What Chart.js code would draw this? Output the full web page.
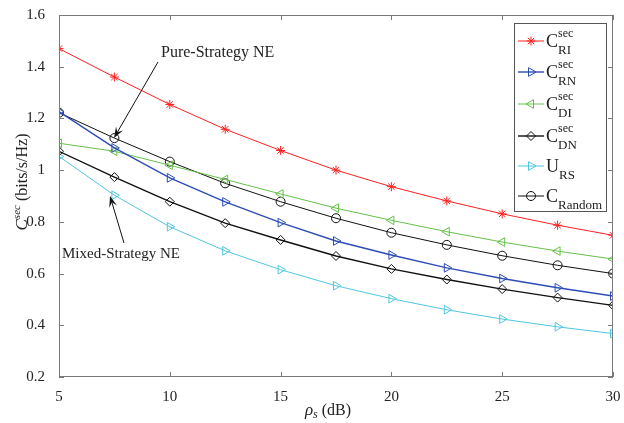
<!DOCTYPE html>
<html>
<head>
<meta charset="utf-8">
<script src="https://cdn.jsdelivr.net/npm/chart.js@4/dist/chart.umd.min.js"></script>
<style>
  body { margin: 0; background: #fff; }
  #wrap { width: 624px; height: 423px; }
</style>
</head>
<body>
<div id="wrap"><canvas id="secChart" width="624" height="423"></canvas></div>
<script>
// SNR points (dB)
const rhoS = [5, 7.5, 10, 12.5, 15, 17.5, 20, 22.5, 25, 27.5, 30];

// secrecy capacity / utility curves
const cRI     = [1.470, 1.360, 1.254, 1.158, 1.076, 1.000, 0.936, 0.881, 0.831, 0.787, 0.748];
const cRN     = [1.226, 1.086, 0.970, 0.877, 0.797, 0.726, 0.672, 0.622, 0.581, 0.545, 0.513];
const cDI     = [1.104, 1.073, 1.019, 0.964, 0.908, 0.853, 0.806, 0.762, 0.722, 0.687, 0.656];
const cDN     = [1.073, 0.973, 0.878, 0.795, 0.730, 0.668, 0.618, 0.577, 0.540, 0.507, 0.477];
const uRS     = [1.053, 0.903, 0.781, 0.688, 0.615, 0.553, 0.503, 0.460, 0.424, 0.394, 0.368];
const cRandom = [1.222, 1.124, 1.033, 0.949, 0.878, 0.814, 0.758, 0.711, 0.669, 0.632, 0.600];

const xTicks = [5, 10, 15, 20, 25, 30];
const yTicks = [0.2, 0.4, 0.6, 0.8, 1.0, 1.2, 1.4, 1.6];

const SERIF = '"Liberation Serif", "DejaVu Serif", serif';

// legend label: main letter, superscript, subscript
const series = [
  { data: cRI,     color: '#ff2020', style: 'star',     rot: 0,   r: 4.5, w: 1,   main: 'C', sup: 'sec', sub: 'RI' },
  { data: cRN,     color: '#2c4db5', style: 'triangle', rot: 90,  r: 5,   w: 1.4, main: 'C', sup: 'sec', sub: 'RN' },
  { data: cDI,     color: '#66c04a', style: 'triangle', rot: -90, r: 5,   w: 1,   main: 'C', sup: 'sec', sub: 'DI' },
  { data: cDN,     color: '#111111', style: 'rectRot',  rot: 0,   r: 4.5, w: 1.4, main: 'C', sup: 'sec', sub: 'DN' },
  { data: uRS,     color: '#50c6e0', style: 'triangle', rot: 90,  r: 5,   w: 1,   main: 'U', sup: '',    sub: 'RS' },
  { data: cRandom, color: '#111111', style: 'circle',   rot: 0,   r: 4.5, w: 1,   main: 'C', sup: '',    sub: 'Random' }
];

const datasets = series.map(s => ({
  data: s.data.map((v, i) => ({ x: rhoS[i], y: v })),
  borderColor: s.color,
  borderWidth: s.w,
  pointStyle: s.style,
  pointRotation: s.rot,
  pointRadius: s.r,
  pointBorderWidth: 1,
  pointBorderColor: s.color,
  pointBackgroundColor: 'rgba(0,0,0,0)',
  tension: 0
}));

function arrow(ctx, x0, y0, x1, y1) {
  const a = Math.atan2(y1 - y0, x1 - x0);
  const len = 11, half = 4;
  ctx.beginPath();
  ctx.moveTo(x0, y0);
  ctx.lineTo(x1 - len * 0.6 * Math.cos(a), y1 - len * 0.6 * Math.sin(a));
  ctx.stroke();
  ctx.beginPath();
  ctx.moveTo(x1, y1);
  ctx.lineTo(x1 - len * Math.cos(a) + half * Math.sin(a), y1 - len * Math.sin(a) - half * Math.cos(a));
  ctx.lineTo(x1 - len * 0.6 * Math.cos(a), y1 - len * 0.6 * Math.sin(a));
  ctx.lineTo(x1 - len * Math.cos(a) - half * Math.sin(a), y1 - len * Math.sin(a) + half * Math.cos(a));
  ctx.closePath();
  ctx.fill();
}

// write a run of text pieces (font + vertical shift each), centred on cx
function textRun(ctx, parts, cx, y) {
  let tw = 0;
  parts.forEach(p => { ctx.font = p.f; tw += ctx.measureText(p.t).width; });
  let x = cx - tw / 2;
  parts.forEach(p => { ctx.font = p.f; ctx.fillText(p.t, x, y + p.dy); x += ctx.measureText(p.t).width; });
}

// axes box, inward ticks, titles, annotations and legend
const decorations = {
  id: 'decorations',
  afterDatasetsDraw(chart) {
    const { ctx, chartArea: a, scales } = chart;
    ctx.save();

    // box + inward ticks on all sides
    ctx.strokeStyle = '#7a7a7a';
    ctx.lineWidth = 1;
    ctx.strokeRect(a.left + 0.5, a.top + 0.5, a.right - a.left - 1, a.bottom - a.top - 1);
    ctx.beginPath();
    xTicks.forEach(t => {
      const px = Math.round(scales.x.getPixelForValue(t)) + 0.5;
      ctx.moveTo(px, a.bottom); ctx.lineTo(px, a.bottom - 5);
      ctx.moveTo(px, a.top); ctx.lineTo(px, a.top + 5);
    });
    yTicks.forEach(t => {
      const py = Math.round(scales.y.getPixelForValue(t)) + 0.5;
      ctx.moveTo(a.left, py); ctx.lineTo(a.left + 5, py);
      ctx.moveTo(a.right, py); ctx.lineTo(a.right - 5, py);
    });
    ctx.stroke();

    ctx.fillStyle = '#222';
    ctx.textBaseline = 'alphabetic';

    // y title: C^sec (bits/s/Hz)
    ctx.save();
    ctx.translate(27, 182);
    ctx.rotate(-Math.PI / 2);
    textRun(ctx, [
      { t: 'C', f: 'italic 17px ' + SERIF, dy: 0 },
      { t: 'sec', f: 'italic 11px ' + SERIF, dy: -7 },
      { t: ' (bits/s/Hz)', f: '16px ' + SERIF, dy: 0 }
    ], 0, 0);
    ctx.restore();

    // x title: rho_s (dB)
    textRun(ctx, [
      { t: 'ρ', f: 'italic 17px ' + SERIF, dy: 0 },
      { t: 's', f: 'italic 12px ' + SERIF, dy: 3 },
      { t: ' (dB)', f: '16px ' + SERIF, dy: 0 }
    ], 328, 415);

    // NE annotations
    ctx.font = '16px ' + SERIF;
    ctx.textAlign = 'left';
    ctx.fillText('Pure-Strategy NE', 161, 57);
    ctx.font = '15px ' + SERIF;
    ctx.fillText('Mixed-Strategy NE', 62, 258);
    ctx.strokeStyle = '#111';
    ctx.fillStyle = '#111';
    ctx.lineWidth = 1;
    arrow(ctx, 158, 62, 114, 138);
    arrow(ctx, 124, 243, 110, 196);

    // legend
    const lx = 514, ly = 23, lw = 92, lh = 188;
    ctx.fillStyle = '#fff';
    ctx.fillRect(lx, ly, lw, lh);
    ctx.strokeStyle = '#555';
    ctx.strokeRect(lx + 0.5, ly + 0.5, lw, lh);
    const rowY = [41, 72, 104, 136, 166, 196];
    series.forEach((s, i) => {
      const y = rowY[i];
      ctx.strokeStyle = s.color;
      ctx.lineWidth = s.w;
      ctx.beginPath();
      ctx.moveTo(518, y); ctx.lineTo(544, y);
      ctx.stroke();
      ctx.fillStyle = 'rgba(0,0,0,0)';
      ctx.lineWidth = 1;
      Chart.helpers.drawPoint(ctx, { pointStyle: s.style, rotation: s.rot, radius: s.r, borderWidth: 1 }, 531, y);
      ctx.fillStyle = '#222';
      ctx.font = '18px ' + SERIF;
      ctx.fillText(s.main, 546, y + 6);
      const mw = ctx.measureText(s.main).width;
      if (s.sup) {
        ctx.font = '12px ' + SERIF;
        ctx.fillText(s.sup, 546 + mw, y - 4);
      }
      ctx.font = '13px ' + SERIF;
      ctx.fillText(s.sub, 546 + mw, y + 13);
    });

    ctx.restore();
  }
};

new Chart(document.getElementById('secChart'), {
  type: 'line',
  data: { datasets },
  options: {
    responsive: false,
    animation: false,
    devicePixelRatio: 1,
    layout: { padding: { top: 13, right: 11, left: 0, bottom: 0 } },
    plugins: { legend: { display: false }, tooltip: { enabled: false } },
    scales: {
      x: {
        type: 'linear', min: 5, max: 30,
        afterBuildTicks: s => { s.ticks = xTicks.map(v => ({ value: v })); },
        afterFit: s => { s.height = 46; },
        grid: { display: false }, border: { display: false },
        ticks: { color: '#222', font: { family: SERIF, size: 15 }, padding: 3, maxRotation: 0 }
      },
      y: {
        min: 0.2, max: 1.6,
        afterBuildTicks: s => { s.ticks = yTicks.map(v => ({ value: v })); },
        afterFit: s => { s.width = 59; },
        grid: { display: false }, border: { display: false },
        ticks: { color: '#222', font: { family: SERIF, size: 15 }, padding: 6,
                 callback: v => String(Math.round(v * 10) / 10) }
      }
    }
  },
  plugins: [decorations]
});
</script>
</body>
</html>
